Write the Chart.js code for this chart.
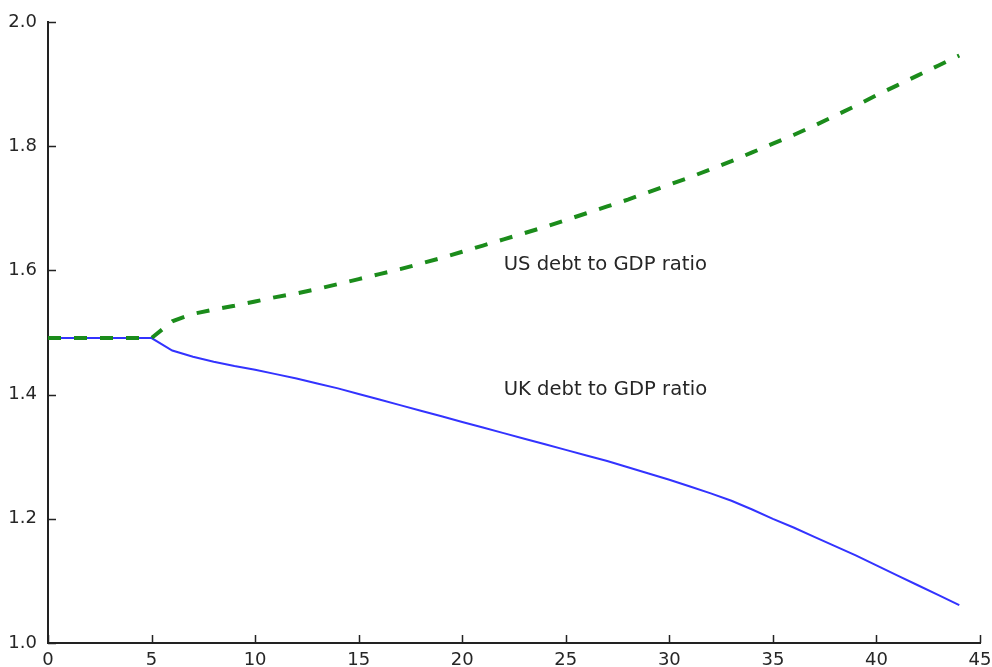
<!DOCTYPE html>
<html>
<head>
<meta charset="utf-8">
<script src="https://cdn.jsdelivr.net/npm/chart.js@4.4.1/dist/chart.umd.min.js"></script>
<style>
  html, body { margin: 0; padding: 0; background: #fff; }
  canvas { display: block; }
</style>
</head>
<body>
<canvas id="chart" width="992" height="667"></canvas>
<script>
// Years since start of the simulation
const years = [0, 1, 2, 3, 4, 5, 6, 7, 8, 9, 10, 11, 12, 13, 14, 15, 16, 17, 18, 19,
  20, 21, 22, 23, 24, 25, 26, 27, 28, 29, 30, 31, 32, 33, 34, 35, 36, 37, 38, 39,
  40, 41, 42, 43, 44];

// Debt to GDP ratio paths
const usDebtRatio = [1.491, 1.491, 1.491, 1.491, 1.491, 1.491, 1.518, 1.530, 1.537, 1.543,
  1.550, 1.557, 1.563, 1.570, 1.578, 1.586, 1.594, 1.602, 1.611, 1.620,
  1.630, 1.640, 1.650, 1.660, 1.670, 1.681, 1.692, 1.703, 1.714, 1.726,
  1.738, 1.750, 1.763, 1.776, 1.790, 1.804, 1.818, 1.833, 1.849, 1.865,
  1.882, 1.898, 1.914, 1.930, 1.946];
const ukDebtRatio = [1.491, 1.491, 1.491, 1.491, 1.491, 1.491, 1.471, 1.461, 1.453, 1.446,
  1.440, 1.433, 1.426, 1.418, 1.410, 1.401, 1.392, 1.383, 1.374, 1.365,
  1.356, 1.347, 1.338, 1.329, 1.320, 1.311, 1.302, 1.293, 1.283, 1.273,
  1.263, 1.252, 1.241, 1.229, 1.215, 1.200, 1.186, 1.171, 1.156, 1.141,
  1.125, 1.109, 1.093, 1.077, 1.061];

// Axis ticks
const xTicks = [0, 5, 10, 15, 20, 25, 30, 35, 40, 45];
const yTicks = [1.0, 1.2, 1.4, 1.6, 1.8, 2.0];

// In-plot text labels (data coordinates)
const labelTexts = ['US debt to GDP ratio', 'UK debt to GDP ratio'];
const labelXs = [22, 22];
const labelYs = [1.6, 1.4];

const FONT = '"DejaVu Sans", sans-serif';
const TEXT_COLOR = '#262626';
const AXIS_COLOR = '#222222';

const toPoints = (xs, ys) => xs.map((x, i) => ({ x: x, y: ys[i] }));

// Inward tick marks plus the text labels
const decorations = {
  id: 'decorations',
  afterDraw(chart) {
    const ctx = chart.ctx;
    const xs = chart.scales.x, ys = chart.scales.y;
    const area = chart.chartArea;
    ctx.save();
    ctx.strokeStyle = AXIS_COLOR;
    ctx.lineWidth = 1.5;
    ctx.beginPath();
    xTicks.forEach(v => {
      const px = Math.round(xs.getPixelForValue(v)) + 0.5;
      ctx.moveTo(px, area.bottom);
      ctx.lineTo(px, area.bottom - 8);
    });
    yTicks.forEach(v => {
      const py = Math.round(ys.getPixelForValue(v)) + 0.5;
      ctx.moveTo(area.left, py);
      ctx.lineTo(area.left + 8, py);
    });
    ctx.stroke();

    ctx.fillStyle = TEXT_COLOR;
    ctx.font = '19.6px ' + FONT;
    ctx.textAlign = 'left';
    ctx.textBaseline = 'alphabetic';
    labelTexts.forEach((t, i) => {
      ctx.fillText(t, xs.getPixelForValue(labelXs[i]), ys.getPixelForValue(labelYs[i]));
    });
    ctx.restore();
  }
};

new Chart(document.getElementById('chart'), {
  type: 'line',
  data: {
    datasets: [
      {
        label: 'US debt to GDP ratio',
        data: toPoints(years, usDebtRatio),
        borderColor: '#1b8c1b',
        borderWidth: 4,
        borderDash: [13, 13],
        borderCapStyle: 'butt',
        pointRadius: 0,
        tension: 0,
        fill: false,
        order: 0
      },
      {
        label: 'UK debt to GDP ratio',
        data: toPoints(years, ukDebtRatio),
        borderColor: '#3333ff',
        borderWidth: 2,
        pointRadius: 0,
        tension: 0,
        fill: false,
        order: 1
      }
    ]
  },
  options: {
    responsive: false,
    animation: false,
    events: [],
    layout: { padding: { top: 22, right: 12, left: 0, bottom: 0 } },
    plugins: { legend: { display: false }, tooltip: { enabled: false } },
    scales: {
      x: {
        type: 'linear',
        min: 0,
        max: 45,
        afterBuildTicks: s => { s.ticks = xTicks.map(v => ({ value: v })); },
        afterFit: s => { s.height = 24; },
        grid: { display: false },
        border: { display: true, color: AXIS_COLOR, width: 2 },
        ticks: {
          color: TEXT_COLOR,
          font: { family: FONT, size: 18 },
          padding: -1,
          maxRotation: 0,
          autoSkip: false,
          callback: v => String(v)
        }
      },
      y: {
        type: 'linear',
        min: 1.0,
        max: 2.0,
        afterBuildTicks: s => { s.ticks = yTicks.map(v => ({ value: v })); },
        afterFit: s => { s.width = 48; },
        grid: { display: false },
        border: { display: true, color: AXIS_COLOR, width: 2 },
        ticks: {
          color: TEXT_COLOR,
          font: { family: FONT, size: 18 },
          padding: 3,
          autoSkip: false,
          callback: v => Number(v).toFixed(1)
        }
      }
    }
  },
  plugins: [decorations]
});
</script>
</body>
</html>
